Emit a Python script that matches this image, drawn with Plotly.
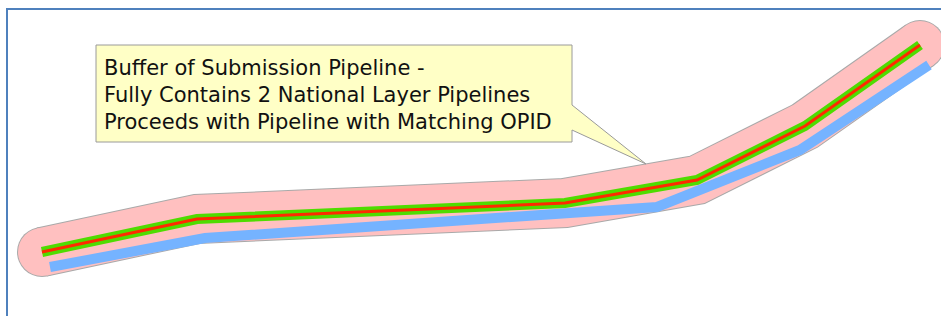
import plotly.graph_objects as go

# Submission pipeline centreline (red) – also carries the coincident green national-layer pipeline
submission_x = [42, 197, 565, 697, 805, 920]
submission_y = [252, 219, 203, 180, 126, 45]

# Second national-layer pipeline (blue)
national_x = [50, 205, 657, 800, 929]
national_y = [267, 238, 207, 150, 65]

# Callout balloon outline
callout_x = [96, 572, 572, 646, 572, 572, 96, 96]
callout_y = [45, 45, 105, 164, 130, 142, 142, 45]

callout_lines = [
    "Buffer of Submission Pipeline -",
    "Fully Contains 2 National Layer Pipelines",
    "Proceeds with Pipeline with Matching OPID",
]
callout_line_y = [68, 95, 122]

BUFFER_W = 48
OUTLINE = "#a9a9a9"
PINK = "#ffc0c0"

fig = go.Figure()

ends_x = [submission_x[0], submission_x[-1]]
ends_y = [submission_y[0], submission_y[-1]]

# buffer outline (grey) with round caps
fig.add_trace(go.Scatter(
    x=submission_x, y=submission_y, mode="lines",
    line=dict(color=OUTLINE, width=BUFFER_W + 2),
    hoverinfo="skip", showlegend=False))
fig.add_trace(go.Scatter(
    x=ends_x, y=ends_y, mode="markers",
    marker=dict(size=BUFFER_W + 2, color=OUTLINE, opacity=1, line=dict(width=0)),
    hoverinfo="skip", showlegend=False))
# buffer fill (pink) with round caps
fig.add_trace(go.Scatter(
    x=submission_x, y=submission_y, mode="lines",
    line=dict(color=PINK, width=BUFFER_W),
    hoverinfo="skip", showlegend=False))
fig.add_trace(go.Scatter(
    x=ends_x, y=ends_y, mode="markers",
    marker=dict(size=BUFFER_W, color=PINK, opacity=1, line=dict(width=0)),
    hoverinfo="skip", showlegend=False))

# blue national pipeline
fig.add_trace(go.Scatter(
    x=national_x, y=national_y, mode="lines",
    line=dict(color="#75b3ff", width=10),
    hoverinfo="skip", showlegend=False))

# green national pipeline (coincident) and red submission pipeline
fig.add_trace(go.Scatter(
    x=submission_x, y=submission_y, mode="lines",
    line=dict(color="#4fdc00", width=10),
    hoverinfo="skip", showlegend=False))
fig.add_trace(go.Scatter(
    x=submission_x, y=submission_y, mode="lines",
    line=dict(color="#ff2a00", width=3),
    hoverinfo="skip", showlegend=False))

# callout balloon
fig.add_trace(go.Scatter(
    x=callout_x, y=callout_y, mode="lines", fill="toself",
    fillcolor="#ffffc6", line=dict(color="#9a9a9a", width=1),
    hoverinfo="skip", showlegend=False))

for txt, yy in zip(callout_lines, callout_line_y):
    fig.add_annotation(
        x=102, y=yy, xref="x", yref="y", text=txt, showarrow=False,
        xanchor="left", yanchor="middle",
        font=dict(family="DejaVu Sans", size=21, color="#111111"))

# map frame (left and top edges only visible)
fig.add_shape(type="line", xref="paper", yref="paper", x0=7 / 941, x1=7 / 941, y0=0, y1=1 - 8 / 316,
              line=dict(color="#4f81bd", width=2))
fig.add_shape(type="line", xref="paper", yref="paper", x0=6 / 941, x1=1, y0=1 - 9 / 316, y1=1 - 9 / 316,
              line=dict(color="#4f81bd", width=2))

fig.update_layout(
    width=941, height=316, autosize=False,
    margin=dict(l=0, r=0, t=0, b=0),
    paper_bgcolor="white", plot_bgcolor="white",
    xaxis=dict(range=[0, 941], visible=False, fixedrange=True),
    yaxis=dict(range=[316, 0], visible=False, fixedrange=True),
)

fig.write_html("out.html", config={"displayModeBar": False},
               post_script="document.body.style.margin='0';document.body.style.overflow='hidden';")
